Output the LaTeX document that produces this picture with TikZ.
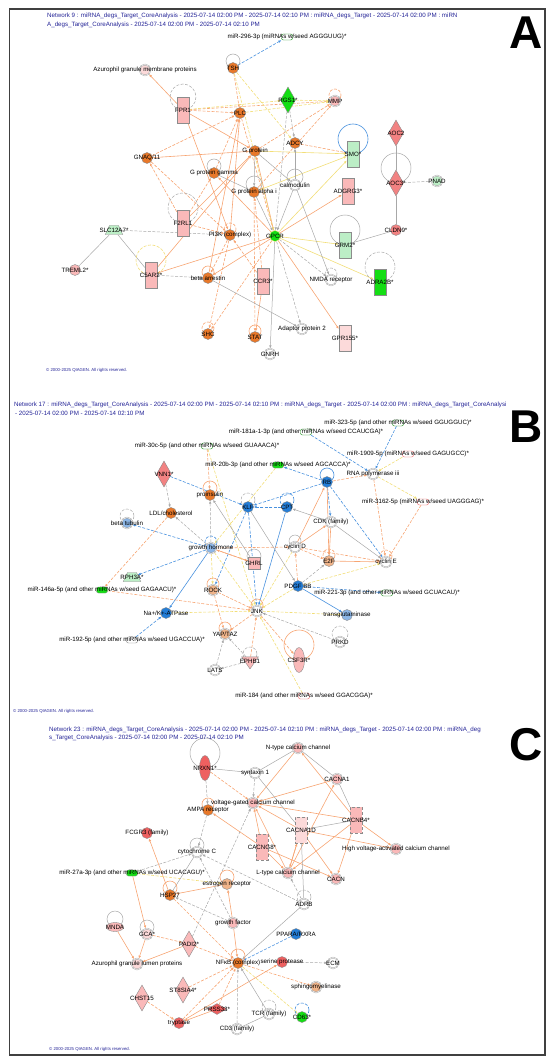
\documentclass[tikz,border=0pt]{standalone}
\usepackage{fontspec}
\setmainfont{Liberation Sans}
\usepackage{tikz}
\usetikzlibrary{arrows.meta}
\usetikzlibrary{shapes.geometric}
\usetikzlibrary{backgrounds}
\definecolor{titleblue}{RGB}{35, 35, 150}
\definecolor{pumpkin}{RGB}{232, 120, 42}
\definecolor{peach}{RGB}{240, 180, 138}
\definecolor{rosy}{RGB}{250, 185, 185}
\definecolor{blush}{RGB}{252, 218, 218}
\definecolor{coral}{RGB}{238, 96, 96}
\definecolor{salmon}{RGB}{242, 130, 130}
\definecolor{lime}{RGB}{20, 222, 20}
\definecolor{mint}{RGB}{188, 238, 198}
\definecolor{azure}{RGB}{35, 125, 215}
\definecolor{sky}{RGB}{140, 182, 230}
\definecolor{actline}{RGB}{247, 165, 115}
\definecolor{inhline}{RGB}{72, 145, 222}
\definecolor{oddline}{RGB}{242, 222, 120}
\definecolor{noline}{RGB}{168, 168, 168}
\tikzset{
  lb/.style={font=\fontsize{6.2}{6.5}\selectfont, text=black, inner sep=0pt},
  circ/.style={circle, draw=black!45, line width=0.4pt, minimum size=11pt, inner sep=0pt},
  grp/.style={circ, double=white, double distance=0.5pt, draw=black!40},
  rect/.style={rectangle, draw=black!45, line width=0.4pt, minimum width=12pt, minimum height=26pt, inner sep=0pt},
  dia/.style={diamond, draw=black!45, line width=0.4pt, minimum width=15pt, minimum height=26pt, inner sep=0pt},
  pep/.style={diamond, draw=black!45, line width=0.4pt, minimum width=19pt, minimum height=11pt, inner sep=0pt},
  mir/.style={rectangle, rounded corners=2pt, draw=black!45, line width=0.4pt, minimum width=11pt, minimum height=6pt, inner sep=0pt},
  trap/.style={trapezium, trapezium left angle=65, trapezium right angle=65, draw=black!45, line width=0.4pt, minimum width=10pt, minimum height=9pt, inner sep=1.5pt},
  kin/.style={isosceles triangle, shape border rotate=-90, isosceles triangle apex angle=70, draw=black!45, line width=0.4pt, minimum size=12pt, inner sep=1pt},
  ell/.style={ellipse, draw=black!45, line width=0.4pt, minimum width=11pt, minimum height=25pt, inner sep=0pt},
  act/.style={draw=actline, line width=0.6pt, -{Latex[length=3pt,width=2.6pt]}},
  inh/.style={draw=inhline, line width=0.6pt, -{Latex[length=3pt,width=2.6pt]}},
  odd/.style={draw=oddline, line width=0.6pt, -{Latex[length=3pt,width=2.6pt]}},
  nol/.style={draw=noline, line width=0.5pt, -{Latex[length=3pt,width=2.6pt]}},
  ind/.style={dash pattern=on 3pt off 1.5pt},
  heading/.style={font=\fontsize{6.2}{8}\selectfont, text=titleblue, anchor=west, inner sep=0pt},
  rights/.style={font=\fontsize{4.3}{5}\selectfont, text=titleblue, anchor=west, inner sep=0pt},
  letter/.style={font=\fontsize{46}{46}\selectfont\bfseries, inner sep=0pt}
}
\newcommand{\ownloop}[3][nol]{\draw[#1,-] (#2) ++(0,-#3) circle (#3);}
\begin{document}
\begin{tikzpicture}[x=1pt, y=-1pt]
\useasboundingbox (0,0) rectangle (550,1059);
\draw[black!75, line width=1.6pt] (9.5,9) rectangle (545,1055);

% panel A
\node[heading] (tA1) at (47,16) {Network 9 : miRNA\_degs\_Target\_CoreAnalysis - 2025-07-14 02:00 PM - 2025-07-14 02:10 PM : miRNA\_degs\_Target - 2025-07-14 02:00 PM : miRN};
\node[heading] (tA2) at (47,25) {A\_degs\_Target\_CoreAnalysis - 2025-07-14 02:00 PM - 2025-07-14 02:10 PM};
\node[letter] (letA) at (526,33) {A};
\node[rights] (cA) at (46,370) {© 2000-2025 QIAGEN. All rights reserved.};

\node[mir, fill=white, draw=lime!60!black, label={[lb]center:miR-296-3p (miRNAs w/seed AGGGUUG)*}] (m296) at (287,37) {};
\node[circ, fill=pumpkin, label={[lb]center:TSH}] (tsh) at (233,68) {};
\node[grp, fill=blush, label={[lb]center:Azurophil granule membrane proteins}] (azm) at (145,70) {};
\node[dia, fill=lime, label={[lb]center:RGS1*}] (rgs) at (288,100) {};
\node[grp, fill=rosy, label={[lb]center:MMP}] (mmp) at (335,101) {};
\node[rect, fill=rosy, label={[lb]center:FPR1}] (fpr) at (183,110) {};
\node[circ, fill=pumpkin, label={[lb]center:PLC}] (plc) at (240,113) {};
\node[circ, fill=pumpkin, label={[lb]center:ADCY}] (adcy) at (295,143) {};
\node[rect, fill=mint, label={[lb]center:SMO*}] (smo) at (353,154) {};
\node[dia, fill=salmon, label={[lb]center:AOC2}] (aoc2) at (396,133) {};
\node[circ, fill=pumpkin, label={[lb]center:G protein}] (gprot) at (255,151) {};
\node[circ, fill=pumpkin, label={[lb]center:GNAQ/11}] (gnaq) at (147,158) {};
\node[circ, fill=pumpkin, label={[lb]center:G protein gamma}] (ggam) at (214,173) {};
\node[dia, fill=salmon, label={[lb]center:AOC3*}] (aoc3) at (396,183) {};
\node[grp, fill=mint, label={[lb]center:PNAD}] (pnad) at (437,181) {};
\node[grp, fill=white, label={[lb]center:calmodulin}] (calm) at (295,185) {};
\node[rect, fill=rosy, label={[lb]center:ADGRG3*}] (adgr) at (348,191) {};
\node[circ, fill=pumpkin, label={[lb]center:G protein alpha i}] (galp) at (254,192) {};
\node[rect, fill=rosy, label={[lb]center:F2RL1}] (f2rl) at (183,223) {};
\node[trap, fill=mint, label={[lb]center:SLC12A7*}] (slc) at (114,230) {};
\node[circ, fill=salmon, label={[lb]center:CLDN9*}] (cldn) at (396,230) {};
\node[circ, fill=pumpkin, label={[lb]center:PI3K (complex)}] (pi3k) at (230,235) {};
\node[circ, fill=lime, draw=oddline, label={[lb]center:GPCR}] (gpcr) at (275,236) {};
\node[rect, fill=mint, label={[lb]center:GRM2*}] (grm) at (345,245) {};
\node[circ, fill=rosy, label={[lb]center:TREML2*}] (treml) at (75,270) {};
\node[rect, fill=rosy, label={[lb]center:C5AR2*}] (c5ar) at (151,275) {};
\node[circ, fill=pumpkin, label={[lb]center:beta arrestin}] (barr) at (208,278) {};
\node[rect, fill=rosy, label={[lb]center:CCR3*}] (ccr) at (263,281) {};
\node[grp, fill=white, label={[lb]center:NMDA receptor}] (nmda) at (331,280) {};
\node[rect, fill=lime, label={[lb]center:ADRA2B*}] (adra) at (380,282) {};
\node[grp, fill=white, label={[lb]center:Adaptor protein 2}] (adp2) at (302,329) {};
\node[circ, fill=pumpkin, label={[lb]center:SHC}] (shc) at (208,334) {};
\node[circ, fill=pumpkin, label={[lb]center:STAT}] (stat) at (255,337) {};
\node[rect, fill=blush, label={[lb]center:GPR155*}] (gpr) at (345,338) {};
\node[grp, fill=white, label={[lb]center:GNRH}] (gnrh) at (270,354) {};

% panel B
\node[heading] (tB1) at (14,405) {Network 17 : miRNA\_degs\_Target\_CoreAnalysis - 2025-07-14 02:00 PM - 2025-07-14 02:10 PM : miRNA\_degs\_Target - 2025-07-14 02:00 PM : miRNA\_degs\_Target\_CoreAnalysi};
\node[heading] (tB2) at (15,413) {- 2025-07-14 02:00 PM - 2025-07-14 02:10 PM};
\node[letter] (letB) at (526,427) {B};
\node[rights] (cB) at (13,711) {© 2000-2025 QIAGEN. All rights reserved.};

\node[mir, fill=white, draw=lime!60!black, label={[lb]center:miR-323-5p (and other miRNAs w/seed GGUGGUC)*}] (m323) at (398,423) {};
\node[mir, fill=white, draw=lime!60!black, label={[lb]center:miR-181a-1-3p (and other miRNAs w/seed CCAUCGA)*}] (m181) at (306,432) {};
\node[mir, fill=white, draw=lime!60!black, label={[lb]center:miR-30c-5p (and other miRNAs w/seed GUAAACA)*}] (m30c) at (207,446) {};
\node[mir, fill=white, draw=coral, label={[lb]center:miR-1909-5p (miRNAs w/seed GAGUGCC)*}] (m1909) at (408,454) {};
\node[mir, fill=lime, label={[lb]center:miR-20b-3p (and other miRNAs w/seed AGCACCA)*}] (m20b) at (278,465) {};
\node[dia, fill=salmon, label={[lb]center:VNN1*}] (vnn) at (164,474) {};
\node[grp, fill=white, label={[lb]center:RNA polymerase iii}] (rnap) at (373,474) {};
\node[circ, fill=azure, label={[lb]center:RB}] (rb) at (327,482) {};
\node[circ, fill=pumpkin, label={[lb]center:proinsulin}] (proi) at (210,495) {};
\node[circ, fill=azure, label={[lb]center:KLF}] (klf) at (248,507) {};
\node[circ, fill=azure, label={[lb]center:CPT}] (cpt) at (287,507) {};
\node[mir, fill=white, draw=coral, label={[lb]center:miR-3162-5p (miRNAs w/seed UAGGGAG)*}] (m3162) at (423,502) {};
\node[circ, fill=pumpkin, label={[lb]center:LDL/cholesterol}] (ldl) at (171,513) {};
\node[grp, fill=sky, label={[lb]center:beta tubulin}] (btub) at (127,523) {};
\node[grp, fill=white, label={[lb]center:CDK (family)}] (cdk) at (331,522) {};
\node[grp, fill=sky, label={[lb]center:growth hormone}] (gh) at (211,548) {};
\node[grp, fill=white, label={[lb]center:cyclin D}] (cycd) at (295,547) {};
\node[circ, fill=peach, label={[lb]center:E2F}] (e2f) at (329,561) {};
\node[grp, fill=white, label={[lb]center:cyclin E}] (cyce) at (386,562) {};
\node[rectangle, draw=black!45, fill=rosy, minimum width=12pt, minimum height=12pt, inner sep=0pt, label={[lb]center:GHRL}] (ghrl) at (254,563) {};
\node[trap, fill=mint, label={[lb]center:RPH3A*}] (rph) at (132,577) {};
\node[grp, fill=peach, label={[lb]center:ROCK}] (rock) at (213,590) {};
\node[circ, fill=azure, label={[lb]center:PDGF BB}] (pdgf) at (298,586) {};
\node[mir, fill=lime, label={[lb]center:miR-146a-5p (and other miRNAs w/seed GAGAACU)*}] (m146) at (102,590) {};
\node[mir, fill=white, draw=lime!60!black, label={[lb]center:miR-221-3p (and other miRNAs w/seed GCUACAU)*}] (m221) at (387,593) {};
\node[circ, fill=azure, label={[lb]center:Na+/K+-ATPase}] (nak) at (166,613) {};
\node[grp, fill=white, label={[lb]center:JNK}] (jnk) at (257,611) {};
\node[circ, fill=sky, label={[lb]center:transglutaminase}] (tgm) at (347,615) {};
\node[grp, fill=peach, label={[lb]center:YAP/TAZ}] (yap) at (225,634) {};
\node[mir, fill=white, draw=black!50, label={[lb]center:miR-192-5p (and other miRNAs w/seed UGACCUA)*}] (m192) at (132,640) {};
\node[grp, fill=white, label={[lb]center:PRKD}] (prkd) at (340,642) {};
\node[kin, fill=rosy, label={[lb]center:EPHB1}] (ephb) at (250,661) {};
\node[ell, fill=rosy, label={[lb]center:CSF3R*}] (csf) at (299,660) {};
\node[grp, fill=white, label={[lb]center:LATS}] (lats) at (215,670) {};
\node[mir, fill=white, draw=coral, label={[lb]center:miR-184 (and other miRNAs w/seed GGACGGA)*}] (m184) at (304,696) {};

% panel C
\node[heading] (tC1) at (49,730) {Network 23 : miRNA\_degs\_Target\_CoreAnalysis - 2025-07-14 02:00 PM - 2025-07-14 02:10 PM : miRNA\_degs\_Target - 2025-07-14 02:00 PM : miRNA\_deg};
\node[heading] (tC2) at (49,738) {s\_Target\_CoreAnalysis - 2025-07-14 02:00 PM - 2025-07-14 02:10 PM};
\node[letter] (letC) at (526,745) {C};
\node[rights] (cC) at (49,1049) {© 2000-2025 QIAGEN. All rights reserved.};

\node[grp, fill=rosy, label={[lb]center:N-type calcium channel}] (ntype) at (298,748) {};
\node[ell, fill=coral, label={[lb]center:NRXN1*}] (nrxn) at (205,768) {};
\node[grp, fill=white, label={[lb]center:syntaxin 1}] (stx) at (255,773) {};
\node[grp, fill=rosy, label={[lb]center:CACNA1}] (cacna1) at (337,779) {};
\node[grp, fill=rosy, label={[lb]center:voltage-gated calcium channel}] (vgcc) at (253,803) {};
\node[circ, fill=pumpkin, label={[lb]center:AMPA receptor}] (ampa) at (208,810) {};
\node[rect, fill=rosy, densely dashed, label={[lb]center:CACNB4*}] (cacnb4) at (356,820) {};
\node[rect, fill=blush, densely dashed, label={[lb]center:CACNA1D}] (cacna1d) at (301,830) {};
\node[circ, fill=coral, label={[lb]center:FCGR3 (family)}] (fcgr) at (147,833) {};
\node[rect, fill=rosy, densely dashed, label={[lb]center:CACNG8*}] (cacng8) at (262,847) {};
\node[grp, fill=rosy, label={[lb]center:High voltage-activated calcium channel}] (hvcc) at (396,849) {};
\node[grp, fill=white, label={[lb]center:cytochrome C}] (cytc) at (197,852) {};
\node[mir, fill=lime, label={[lb]center:miR-27a-3p (and other miRNAs w/seed UCACAGU)*}] (m27a) at (132,873) {};
\node[grp, fill=rosy, label={[lb]center:L-type calcium channel}] (ltype) at (288,873) {};
\node[grp, fill=rosy, label={[lb]center:CACN}] (cacn) at (336,879) {};
\node[circ, fill=peach, label={[lb]center:estrogen receptor}] (esr) at (227,884) {};
\node[circ, fill=pumpkin, label={[lb]center:HSP27}] (hsp) at (170,895) {};
\node[grp, fill=white, label={[lb]center:ADRB}] (adrb) at (304,904) {};
\node[grp, fill=rosy, label={[lb]center:growth factor}] (gf) at (233,923) {};
\node[ellipse, draw=black!45, fill=rosy, minimum width=17pt, minimum height=9pt, inner sep=0pt, label={[lb]center:MNDA}] (mnda) at (115,927) {};
\node[grp, fill=blush, label={[lb]center:GCA*}] (gca) at (147,934) {};
\node[circ, fill=azure, label={[lb]center:PPARA/RXRA}] (ppar) at (296,934) {};
\node[dia, fill=rosy, label={[lb]center:PADI2*}] (padi) at (189,944) {};
\node[circ, fill=pumpkin, label={[lb]center:NFκB (complex)}] (nfkb) at (238,963) {};
\node[grp, fill=blush, label={[lb]center:Azurophil granule lumen proteins}] (azl) at (137,964) {};
\node[circ, fill=coral, label={[lb]center:serine protease}] (serp) at (282,962) {};
\node[grp, fill=white, label={[lb]center:ECM}] (ecm) at (333,963) {};
\node[dia, fill=rosy, label={[lb]center:ST8SIA4*}] (st8) at (183,990) {};
\node[grp, fill=peach, label={[lb]center:sphingomyelinase}] (sph) at (316,987) {};
\node[dia, fill=rosy, label={[lb]center:CHST15}] (chst) at (142,998) {};
\node[pep, fill=coral, label={[lb]center:PRSS33*}] (prss) at (217,1009) {};
\node[grp, fill=white, label={[lb]center:TCR (family)}] (tcr) at (269,1014) {};
\node[circ, fill=lime, label={[lb]center:CD63*}] (cd63) at (302,1017) {};
\node[circ, fill=coral, label={[lb]center:tryptase}] (tryp) at (179,1023) {};
\node[grp, fill=white, label={[lb]center:CD3 (family)}] (cd3) at (237,1029) {};

\begin{pgfonlayer}{background}
% panel A connectors
\foreach \a/\b in {fpr/azm,gnaq/gprot,fpr/gprot,fpr/pi3k,gpcr/adgr,gpcr/gpr,gpcr/c5ar,gpcr/barr,ccr/stat,c5ar/gprot,gpcr/gprot,barr/plc,f2rl/gprot,gpcr/ggam,pi3k/plc}
  \draw[act] (\a) -- (\b);
\foreach \a/\b in {tsh/plc,fpr/plc,fpr/mmp,gnaq/plc,f2rl/gnaq,f2rl/ggam,galp/mmp,adcy/smo,ccr/galp,pi3k/shc,galp/stat,ccr/pi3k,plc/gpcr,f2rl/pi3k,gprot/mmp,pi3k/barr,gpcr/shc,ggam/plc,gnaq/pi3k}
  \draw[act,ind] (\a) -- (\b);
\foreach \a/\b in {gprot/smo,gpcr/smo,gpcr/grm,gpcr/adra,galp/smo}
  \draw[odd] (\a) -- (\b);
\foreach \a/\b in {tsh/gpcr,plc/mmp,tsh/adcy,rgs/mmp,fpr/rgs}
  \draw[odd,ind] (\a) -- (\b);
\foreach \a/\b in {calm/adcy,gprot/calm,calm/nmda,barr/adp2,gpcr/gnrh,ggam/galp,galp/gpcr,calm/gpcr,gprot/galp}
  \draw[nol] (\a) -- (\b);
\foreach \a/\b in {slc/treml,slc/c5ar,aoc2/aoc3,aoc3/cldn,cldn/grm}
  \draw[nol,-] (\a) -- (\b);
\foreach \a/\b in {rgs/adcy,rgs/gpcr,gpcr/nmda,gpcr/adp2,c5ar/barr}
  \draw[nol,ind] (\a) -- (\b);
\draw[nol,ind,-] (slc) -- (pi3k);
\draw[nol,ind,-] (aoc3) -- (pnad);
\draw[inh,ind] (tsh) -- (m296);
\ownloop{tsh}{7}
\ownloop[nol,ind]{fpr}{13}
\ownloop[act,ind]{mmp}{6}
\ownloop[inh]{smo}{15}
\ownloop{aoc3}{15}
\ownloop{ggam}{7}
\ownloop{galp}{8}
\ownloop{calm}{8}
\ownloop[nol,ind]{f2rl}{15}
\ownloop[odd,ind]{c5ar}{15}
\ownloop{grm}{15}
\ownloop[nol,ind]{adra}{15}
\ownloop[nol,ind]{nmda}{6}
\ownloop[act]{barr}{6}
\ownloop[act,ind]{shc}{6}
\ownloop[act]{stat}{6}
\ownloop[act,ind]{pi3k}{6}

% panel B connectors
\foreach \a/\b in {m323/rnap,m181/rnap,rb/m20b,rb/klf,vnn/klf,gh/btub,gh/rph,cpt/klf,rb/cyce,klf/rock,m192/nak,pdgf/m221,rb/cdk,klf/jnk}
  \draw[inh,ind] (\a) -- (\b);
\foreach \a/\b in {gh/nak,pdgf/tgm,cpt/jnk}
  \draw[inh] (\a) -- (\b);
\foreach \a/\b in {cycd/rb,cycd/cdk,rb/e2f,e2f/cyce,ghrl/gh,cdk/e2f}
  \draw[act] (\a) -- (\b);
\foreach \a/\b in {pdgf/cycd,rb/rnap,m30c/proi,rnap/cyce,m3162/cyce,cycd/e2f,cycd/cyce,gh/cycd,ldl/m146,m146/jnk,rock/jnk,rock/yap,jnk/yap,ephb/jnk,jnk/csf,gh/ghrl}
  \draw[act,ind] (\a) -- (\b);
\foreach \a/\b in {m30c/jnk,m20b/gh,m1909/rnap,rnap/m3162,gh/rock,gh/jnk,nak/jnk,jnk/tgm,m184/jnk,pdgf/jnk,pdgf/cyce,cycd/jnk}
  \draw[odd,ind] (\a) -- (\b);
\foreach \a/\b in {cdk/cpt,cdk/cyce,klf/pdgf,ghrl/proi}
  \draw[nol] (\a) -- (\b);
\foreach \a/\b in {vnn/ldl,gh/ldl,gh/proi,prkd/jnk,ephb/yap,ephb/lats,lats/yap,pdgf/e2f}
  \draw[nol,ind] (\a) -- (\b);
\ownloop[inh]{rb}{7}
\ownloop[act]{proi}{7}
\ownloop[nol,ind]{klf}{7}
\ownloop[inh,ind]{cpt}{7}
\ownloop[nol,ind]{btub}{7}
\ownloop[inh,ind]{gh}{6}
\ownloop{cycd}{6}
\ownloop[act,ind]{e2f}{6}
\ownloop[act,ind]{cyce}{6}
\ownloop{ghrl}{7}
\ownloop[act]{rock}{6}
\ownloop[act]{jnk}{6}
\ownloop[act]{yap}{6}
\ownloop[nol,ind]{prkd}{8}
\ownloop[nol,ind]{ephb}{7}
\ownloop[act]{csf}{15}

% panel C connectors
\foreach \a/\b in {ntype/vgcc,cacna1/vgcc,ltype/cacna1,cacnb4/ntype,cacnb4/vgcc,cacnb4/hvcc,cacnb4/cacn,cacnb4/ltype,cacna1d/vgcc,cacna1d/hvcc,cacna1d/ltype,cacna1d/cacn,cacng8/vgcc,cacng8/ampa,cacng8/ltype,cacng8/cacn,ltype/vgcc,ltype/cacna1d,hsp/fcgr,esr/hsp,gf/esr,m27a/gca,mnda/azl,gca/azl,padi/azl,gf/nfkb,tryp/serp,prss/tryp}
  \draw[act] (\a) -- (\b);
\foreach \a/\b in {nrxn/vgcc,hsp/nfkb,padi/nfkb,nfkb/sph,st8/nfkb,tryp/nfkb,chst/tryp,gca/padi,prss/nfkb}
  \draw[act,ind] (\a) -- (\b);
\foreach \a/\b in {m27a/esr,nfkb/cd63}
  \draw[odd,ind] (\a) -- (\b);
\draw[inh,ind] (ppar) -- (nfkb);
\foreach \a/\b in {nrxn/stx,stx/ntype,stx/cacna1d,ntype/cacna1,cacna1/cacnb4,cacnb4/cacna1d,cacna1d/adrb,cytc/hsp,cd3/tcr}
  \draw[nol,-] (\a) -- (\b);
\foreach \a/\b in {adrb/nfkb,tcr/nfkb}
  \draw[nol] (\a) -- (\b);
\foreach \a/\b in {nrxn/ampa,stx/vgcc,ampa/cytc,m27a/cytc,adrb/cytc,adrb/ltype,gf/cytc,gf/hsp,padi/vgcc,serp/ecm,cd3/nfkb}
  \draw[nol,ind] (\a) -- (\b);
\ownloop{nrxn}{15}
\ownloop[act]{ampa}{6}
\ownloop{cytc}{7}
\ownloop[act]{esr}{7}
\ownloop[act]{hsp}{7}
\ownloop[nol,ind]{adrb}{7}
\ownloop{mnda}{8}
\ownloop{gca}{7}
\ownloop[act]{nfkb}{7}
\ownloop[nol,ind]{tcr}{7}
\ownloop[inh,ind]{cd63}{7}
\end{pgfonlayer}
\end{tikzpicture}
\end{document}
